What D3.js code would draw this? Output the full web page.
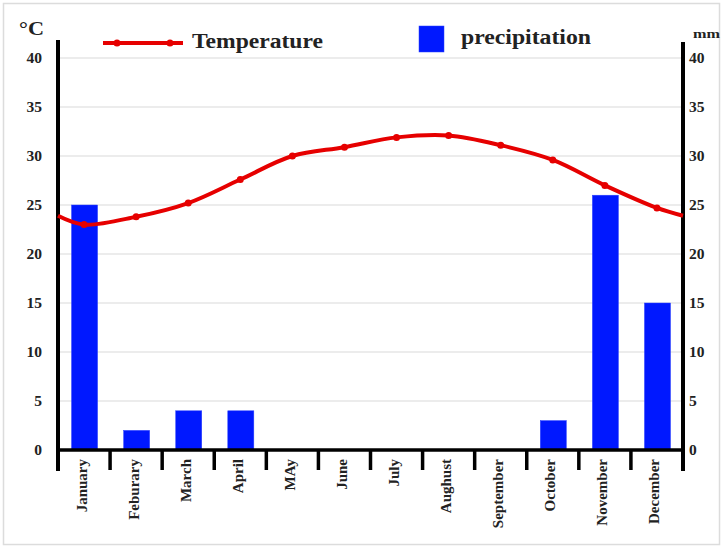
<!DOCTYPE html>
<html><head><meta charset="utf-8">
<script src="https://cdn.jsdelivr.net/npm/d3@7"></script>
<style>body{margin:0;background:#fff}svg{display:block}</style>
</head><body>
<svg id="c" width="723" height="548"></svg>
<script>
const months = ["January","Feburary","March","April","MAy","June","July","Aughust","September","October","November","December"];
const temperature = [23.0, 23.8, 25.2, 27.6, 30.0, 30.9, 31.9, 32.1, 31.1, 29.6, 27.0, 24.7];
const precipitation = [25, 2, 4, 4, 0, 0, 0, 0, 0, 3, 26, 15];
const tempEdges = [23.9, 23.9]; // line value where it meets the left and right axes
const yTicks = [0, 5, 10, 15, 20, 25, 30, 35, 40];

const svg = d3.select("#c");
const font = "'Liberation Serif','Times New Roman',serif";
const m = {left: 58, right: 683, top: 58, bottom: 450};

svg.append("rect").attr("x",3.5).attr("y",3.5).attr("width",716).attr("height",541)
  .attr("fill","none").attr("stroke","#dcdcdc").attr("stroke-width",1.5);

const x = d3.scaleBand().domain(months).range([m.left, m.right]).padding(0);
const y = d3.scaleLinear().domain([0, 40]).range([m.bottom, m.top]);

// gridlines
svg.append("g").selectAll("line").data(yTicks.filter(d => d > 0)).join("line")
  .attr("x1", m.left).attr("x2", m.right).attr("y1", d => y(d)).attr("y2", d => y(d))
  .attr("stroke", "#d9d9d9").attr("stroke-width", 1.2);

// bars
svg.append("g").selectAll("rect").data(precipitation).join("rect")
  .attr("x", (d,i) => x(months[i]) + x.bandwidth()*0.26)
  .attr("width", x.bandwidth()*0.5)
  .attr("y", d => y(d)).attr("height", d => y(0) - y(d))
  .attr("fill", "#0018ff").attr("stroke","#2a40ff").attr("stroke-width",0.5);

// axes
const yl = d3.axisLeft(y).tickValues(yTicks).tickSize(0).tickPadding(16);
const gl = svg.append("g").attr("transform", `translate(${m.left},0)`).call(yl);
gl.select(".domain").remove();
gl.selectAll("text").attr("font-family", font).attr("font-weight","bold").attr("font-size", 15.5).attr("fill","#222");
const yr = d3.axisRight(y).tickValues(yTicks).tickSize(0).tickPadding(6);
const gr = svg.append("g").attr("transform", `translate(${m.right},0)`).call(yr);
gr.select(".domain").remove();
gr.selectAll("text").attr("font-family", font).attr("font-weight","bold").attr("font-size", 15.5).attr("fill","#222");

svg.append("line").attr("x1", m.left).attr("x2", m.left).attr("y1", 40).attr("y2", 471)
  .attr("stroke","#000").attr("stroke-width",4);
svg.append("line").attr("x1", m.right).attr("x2", m.right).attr("y1", 42).attr("y2", 471)
  .attr("stroke","#000").attr("stroke-width",4);
svg.append("line").attr("x1", m.left).attr("x2", m.right).attr("y1", m.bottom).attr("y2", m.bottom)
  .attr("stroke","#000").attr("stroke-width",3.5);
// band boundary ticks
const bounds = months.map(d => x(d)).concat([m.right]);
svg.append("g").selectAll("line").data(bounds).join("line")
  .attr("x1", d => d).attr("x2", d => d).attr("y1", m.bottom).attr("y2", 470)
  .attr("stroke","#000").attr("stroke-width",3.5);

// month labels
svg.append("g").selectAll("text").data(months).join("text")
  .attr("transform", d => `translate(${x(d) + x.bandwidth()/2 + 2.5},459) rotate(-90)`)
  .attr("text-anchor","end").attr("font-family", font).attr("font-weight","bold")
  .attr("font-size", 15).attr("fill","#222").text(d => d);

// temperature line
const pts = [[m.left, tempEdges[0]]]
  .concat(temperature.map((t,i) => [x(months[i]) + x.bandwidth()/2, t]))
  .concat([[m.right, tempEdges[1]]]);
const line = d3.line().x(d => d[0]).y(d => y(d[1])).curve(d3.curveCatmullRom.alpha(0.5));
svg.append("path").attr("d", line(pts)).attr("fill","none").attr("stroke","#e60000").attr("stroke-width",4);
svg.append("g").selectAll("circle").data(temperature).join("circle")
  .attr("cx", (d,i) => x(months[i]) + x.bandwidth()/2).attr("cy", d => y(d)).attr("r", 3.5)
  .attr("fill","#e60000");

// units
svg.append("text").attr("x", 19).attr("y", 35).attr("font-family", font).attr("font-weight","bold")
  .attr("font-size", 19).attr("fill","#222").attr("textLength",25).attr("lengthAdjust","spacingAndGlyphs").text("°C");
svg.append("text").attr("x", 693).attr("y", 38).attr("font-family", font).attr("font-weight","bold")
  .attr("font-size", 13).attr("fill","#222").attr("textLength",27).attr("lengthAdjust","spacingAndGlyphs").text("mm");

// legend
svg.append("line").attr("x1",103).attr("x2",183).attr("y1",43).attr("y2",43)
  .attr("stroke","#e60000").attr("stroke-width",4);
svg.append("g").selectAll("circle").data([117,170]).join("circle")
  .attr("cx", d => d).attr("cy", 43).attr("r", 3.5).attr("fill","#e60000");
svg.append("text").attr("x",192).attr("y",48).attr("font-family", font).attr("font-weight","bold")
  .attr("font-size", 20.5).attr("fill","#222").attr("textLength",131).attr("lengthAdjust","spacingAndGlyphs").text("Temperature");
svg.append("rect").attr("x",419).attr("y",26).attr("width",25).attr("height",26)
  .attr("fill","#0018ff").attr("stroke","#2a40ff").attr("stroke-width",0.5);
svg.append("text").attr("x",461).attr("y",44).attr("font-family", font).attr("font-weight","bold")
  .attr("font-size", 20.5).attr("fill","#222").attr("textLength",130).attr("lengthAdjust","spacingAndGlyphs").text("precipitation");
</script>
</body></html>
